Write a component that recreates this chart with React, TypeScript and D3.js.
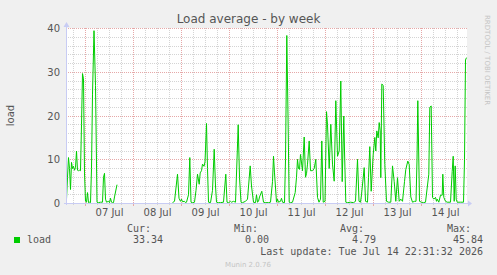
import React from "react";
import * as d3 from "d3";

// ---- data ----
const START = new Date(2026, 6, 6, 14, 30);
const END = new Date(2026, 6, 14, 22, 30);

// hours since START
const hours = [
  0, 0.5, 1, 1.5, 2, 2.5, 3, 3.5, 4, 4.5, 5, 5.5, 6, 6.5, 7, 7.5, 8, 8.5, 9, 9.5, 10, 10.5, 11, 11.5, 12,
  12.5, 13, 13.75, 14.5, 15.25, 16, 17, 18, 18.5, 19, 19.5, 20, 21, 21.5, 22, 22.5, 23, 23.5, 24, 25.25,
  26,
  53, 54, 55.5, 56.25, 57, 57.5, 58, 59, 59.5, 60, 61, 61.65, 62.25, 63, 64, 64.75, 65.5, 66.35, 66.85,
  67.5, 68, 68.75, 69.25, 70, 70.5, 71, 72, 73, 73.85, 74.5, 75, 76, 77, 78.5, 79.65, 80.25, 81, 82, 82.5,
  83.5, 84.5, 85.25, 85.85, 86.5, 87.25, 88, 89.5, 90.5, 91.85, 92.5, 93.5, 94.5, 95, 95.5, 96, 96.5,
  97.65, 98.5, 99.5, 101, 102, 103, 103.5, 104, 105, 105.5, 106, 107, 107.5, 108, 109, 109.5, 110.15,
  110.75, 111.35, 112, 113, 114.35, 115, 115.5, 116, 116.5, 117, 118, 118.85, 119.5, 120, 120.5, 121.35,
  122, 123, 123.85, 124.65, 125.5, 126.25, 127, 127.65, 128.35, 129.25, 130, 130.5, 131.35, 132.15, 133,
  133.85, 134.65, 135.5, 136.35, 137.15, 137.85, 138.65, 139, 139.65, 140.5, 142, 143.5, 144.5, 145.5,
  146.25, 147, 147.5, 148.85, 149.5, 150.5, 151, 151.65, 152.35, 153.35, 154.15, 154.65, 155.15, 155.85,
  156.35, 156.85, 157.15, 157.65, 158.35, 159.15, 160, 161, 162.15, 163, 163.85, 164.65, 165.5, 166.35,
  167.15, 168, 169, 169.65, 170.65, 171.35, 172.15, 173, 174, 174.75, 175.25, 175.65, 176.5, 177.5, 178.5,
  179.5, 181.15, 181.65, 182.35, 183, 183.65, 184.5, 185, 185.35, 186.15, 187, 187.85, 188.15, 188.65,
  189.5, 190.35, 192, 192.85, 193.35, 193.85, 194.35, 194.85, 195.35, 197, 198.5, 199, 199.5, 200,
];

const loads: (number | null)[] = [
  1, 6, 10.5, 8, 3.2, 9.4, 8, 8.5, 7.6, 8.2, 12, 7.6, 7.5, 7.6, 7.5, 18, 29.7, 28.5, 7, 0.5, 0.3, 2.5, 0.2, 0.3, 0.2,
  8, 25, 39.5, 27, 0.3, 0.2, 0.3, 0.3, 6, 6.9, 1, 0.3, 0.5, 0.2, 1.2, 0.3, 0.2, 0.2, 1.5, 4.3,
  null,
  0.2, 0.5, 6.7, 1.2, 0.5, 1, 0.4, 0.5, 0.2, 0.3, 2, 10.5, 0.3, 0.2, 0.3, 3, 6.7, 4.4, 7,
  7.5, 9, 8.5, 9.5, 18.3, 8, 0.3, 0.2, 3, 12.4, 4, 0.3, 0.2, 0.2, 0.3, 6.7, 0.3, 0.2, 0.5, 0.3,
  0.5, 0.3, 10, 18, 6, 0.3, 0.2, 0.5, 1, 8.6, 4, 0.3, 0.2, 2, 0.3, 0.5, 1.5,
  2.8, 0.3, 0.2, 0.2, 0.3, 5, 10.8, 7, 0.3, 1, 0.3, 0.5, 1.2, 0.3, 0.2, 10, 38.4,
  20, 0.3, 0.2, 0.3, 2.5, 6, 10.1, 8, 7.8, 11.2, 7.5, 15.2, 6, 6.8, 9, 14.3,
  7.5, 7.5, 8, 10.1, 1.4, 0.3, 1, 14.3, 0.3, 0.5, 21, 18, 8, 18.1, 9,
  5.1, 23.5, 10.8, 12, 28, 5, 20, 12, 0.3, 0.2, 0.3, 0.2, 0.5, 10.1,
  0.5, 0.3, 2, 8.2, 0.5, 0.3, 6, 13, 2.8, 11.2, 15.1, 12, 16.6, 15,
  18.5, 16.6, 5.9, 27.3, 27, 8.9, 0.5, 0.3, 0.3, 8.6, 5, 0.5, 5.9, 0.5,
  1, 0.5, 5, 7.8, 9.7, 8.9, 1.5, 0.3, 0.5, 0.5, 10, 23.5, 0.5, 0.3, 0.2,
  0.3, 6.7, 22, 22.3, 1.4, 1, 1.4, 0.5, 1, 0.3, 1.9, 1.9, 6.7, 1.4,
  0.5, 0.3, 0.3, 7.3, 10.8, 0.5, 8.6, 1, 0.3, 0.3, 0.3, 10, 32.8, 33.34,
];

const yTicks = [0, 10, 20, 30, 40];
const legendHeaders = ["Cur:", "Min:", "Avg:", "Max:"];
const legendValues = ["33.34", "0.00", "4.79", "45.84"];
const seriesName = "load";
const title = "Load average - by week";
const yLabel = "load";
const lastUpdate = "Last update: Tue Jul 14 22:31:32 2026";
const footer = "Munin 2.0.76";
const sideText = "RRDTOOL / TOBI OETIKER";

// ---- layout ----
const W = 497;
const H = 275;
const PL = 66, PR = 466, PT = 28, PB = 203;

export default function App() {
  const x = d3.scaleTime().domain([START, END]).range([PL + 0.5, PR + 0.5]);
  const y = d3.scaleLinear().domain([0, 40]).range([PB + 0.5, PT + 0.5]);

  const pts = hours.map((h, i) => ({ t: new Date(START.getTime() + h * 3600e3), v: loads[i] }));
  const line = d3
    .line<{ t: Date; v: number | null }>()
    .defined((d) => d.v != null)
    .x((d) => x(d.t))
    .y((d) => y(d.v as number));

  const minorY = d3.range(2, 40, 2).filter((v) => v % 10 !== 0);
  const majorY = [10, 20, 30, 40];
  const sixH = d3.timeHour.every(6)!.range(START, END).filter((d) => d.getHours() !== 0);
  const days = d3.timeDay.range(d3.timeDay.ceil(START), END);
  const noons = days.map((d) => d3.timeHour.offset(d, 12)).filter((d) => d < END);
  const fmt = d3.timeFormat("%d %b");

  const minorC = "#d4d4d4";
  const majorC = "#e6a8a8";
  const axisC = "#c8ccf4";
  const textC = "#555555";
  const valX = [163, 269, 376, 483];
  const hdrX = [127, 234, 340, 447];

  return (
    <svg width={W} height={H} style={{ position: "absolute", left: 0, top: 0 }}>
      <rect x={0} y={0} width={W} height={H} fill="#f0f0f0" />
      <rect x={PL} y={PT} width={PR - PL + 1} height={PB - PT + 1} fill="#ffffff" />
      <g strokeDasharray="1 1" strokeWidth={1} shapeRendering="crispEdges">
        {minorY.map((v) => (
          <line key={"my" + v} x1={PL} x2={PR + 1} y1={y(v)} y2={y(v)} stroke={minorC} />
        ))}
        {sixH.map((d) => (
          <line key={"mx" + d.getTime()} x1={x(d)} x2={x(d)} y1={PT} y2={PB} stroke={minorC} />
        ))}
        {majorY.map((v) => (
          <line key={"My" + v} x1={PL} x2={PR + 1} y1={y(v)} y2={y(v)} stroke={majorC} />
        ))}
        {days.map((d) => (
          <line key={"Mx" + d.getTime()} x1={x(d)} x2={x(d)} y1={PT} y2={PB} stroke={majorC} />
        ))}
      </g>
      <path d={line(pts) || ""} fill="none" stroke="#00cc00" strokeWidth={1} />
      {/* axes */}
      <g shapeRendering="crispEdges">
        <line x1={PL - 2} x2={PR + 3} y1={PB + 0.5} y2={PB + 0.5} stroke={axisC} />
        <line x1={PL + 0.5} x2={PL + 0.5} y1={PB + 2} y2={PT - 3} stroke={axisC} />
        {days.map((d) => (
          <line key={"tk" + d.getTime()} x1={x(d)} x2={x(d)} y1={PB + 1} y2={PB + 3} stroke={majorC} />
        ))}
        {sixH.map((d) => (
          <line key={"tm" + d.getTime()} x1={x(d)} x2={x(d)} y1={PB + 1} y2={PB + 2} stroke={minorC} />
        ))}
      </g>
      <path d={`M${PR + 2},${PB - 2.5} L${PR + 6},${PB + 0.5} L${PR + 2},${PB + 3.5} Z`} fill={axisC} />
      <path d={`M${PL - 2.5},${PT - 1} L${PL + 0.5},${PT - 6} L${PL + 3.5},${PT - 1} Z`} fill={axisC} />

      {/* y tick labels */}
      <g fontFamily="DejaVu Sans" fontSize={10} fill={textC} textAnchor="end">
        {yTicks.map((v) => (
          <text key={v} x={60} y={y(v)} dy="0.35em">
            {v}
          </text>
        ))}
      </g>
      {/* x tick labels */}
      <g fontFamily="DejaVu Sans" fontSize={10} fill={textC} textAnchor="middle">
        {noons.map((d) => (
          <text key={d.getTime()} x={x(d)} y={216}>
            {fmt(d)}
          </text>
        ))}
      </g>
      <text x={248.5} y={23} textAnchor="middle" fontFamily="DejaVu Sans" fontSize={12} fill={textC}>
        {title}
      </text>
      <text
        transform={`translate(14, ${(PT + PB) / 2}) rotate(-90)`}
        textAnchor="middle"
        fontFamily="DejaVu Sans"
        fontSize={10}
        fill={textC}
      >
        {yLabel}
      </text>
      <text
        transform={`translate(485, 15) rotate(90)`}
        fontFamily="DejaVu Sans"
        fontSize={7}
        fill="#c4c4c4"
      >
        {sideText}
      </text>

      {/* legend */}
      <g fontFamily="DejaVu Sans Mono" fontSize={10} fill={textC}>
        {legendHeaders.map((h, i) => (
          <text key={h} x={hdrX[i]} y={232}>
            {h}
          </text>
        ))}
        <rect x={14} y={237} width={6} height={6} fill="#00cc00" />
        <text x={27} y={243}>
          {seriesName}
        </text>
        {legendValues.map((v, i) => (
          <text key={i} x={valX[i]} y={243} textAnchor="end">
            {v}
          </text>
        ))}
        <text x={483} y={255} textAnchor="end">
          {lastUpdate}
        </text>
      </g>
      <text x={248} y={267} textAnchor="middle" fontFamily="DejaVu Sans" fontSize={7} fill="#c4c4c4">
        {footer}
      </text>
    </svg>
  );
}
